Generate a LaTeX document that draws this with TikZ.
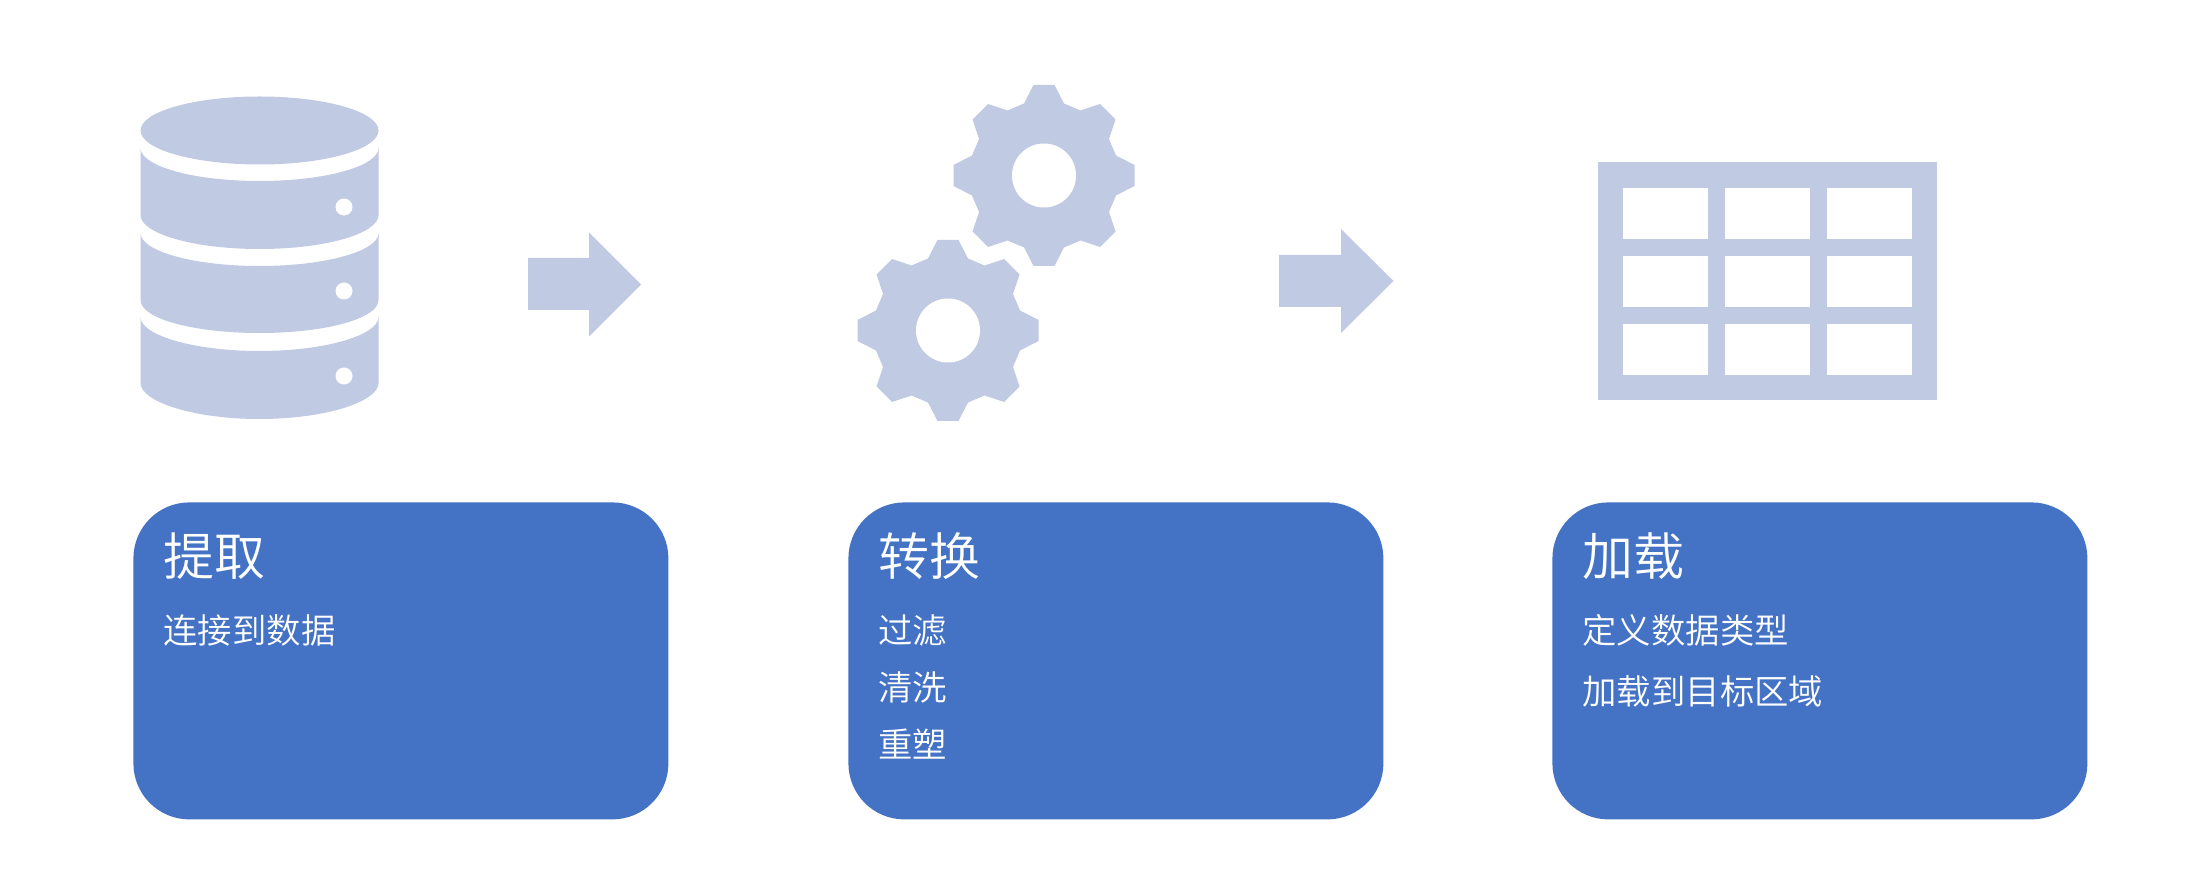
\documentclass[tikz,border=0pt]{standalone}
\usepackage{fontspec}
\newfontfamily\cjk[UprightFont=* DemiLight]{Noto Sans CJK SC}
\definecolor{iconblue}{HTML}{C1CAE3}
\definecolor{cardblue}{HTML}{4472C4}
\tikzset{
  icon/.style={fill=iconblue,draw=none},
  hole/.style={fill=white,draw=none},
  cardbox/.style={fill=cardblue,draw=none,rounded corners=28pt},
  cardtitle/.style={anchor=base west,inner sep=0pt,text=white,font=\cjk\fontsize{25.5}{30}\selectfont},
  cardline/.style={anchor=base west,inner sep=0pt,text=white,font=\cjk\fontsize{17.2}{20}\selectfont},
}
\newcommand{\gearat}[2]{%
  \begin{scope}[shift={(#1,#2)}]
  \fill[icon] (10.5,-90.5)--(20,-72)--(36.5,-65)--(56,-71.5)--(71.5,-56)--(65,-36.5)--(72,-20)--(90.5,-10.5)
   --(90.5,10.5)--(72,20)--(65,36.5)--(71.5,56)--(56,71.5)--(36.5,65)--(20,72)--(10.5,90.5)
   --(-10.5,90.5)--(-20,72)--(-36.5,65)--(-56,71.5)--(-71.5,56)--(-65,36.5)--(-72,20)--(-90.5,10.5)
   --(-90.5,-10.5)--(-72,-20)--(-65,-36.5)--(-71.5,-56)--(-56,-71.5)--(-36.5,-65)--(-20,-72)--(-10.5,-90.5)--cycle;
  \fill[hole] (0,0) circle [radius=32];
  \end{scope}}
\newcommand{\dbseg}[4]{% top side y, arc depth y, bottom side y, bottom y
  \fill[icon] (140.5,#1) .. controls (140.5,{#1+18}) and (193,#2) .. (259.5,#2)
     .. controls (326,#2) and (378.5,{#1+18}) .. (378.5,#1)
     -- (378.5,#3) .. controls (378.5,{#3+18.5}) and (326,#4) .. (259.5,#4)
     .. controls (193,#4) and (140.5,{#3+18.5}) .. (140.5,#3) -- cycle;}
\begin{document}
\begin{tikzpicture}[x=0.5pt,y=-0.5pt]
\useasboundingbox (0,0) rectangle (2190,887);
% database
\fill[icon] (259.5,130.5) ellipse [x radius=119, y radius=34];
\dbseg{148}{181}{215}{249}
\dbseg{233}{266}{300}{333}
\dbseg{317}{351}{383}{419}
\fill[hole] (344,207) circle [radius=8.5];
\fill[hole] (344,291) circle [radius=8.5];
\fill[hole] (344,376) circle [radius=8.5];
% gears
\gearat{1044}{175.5}
\gearat{948}{330.5}
% table
\fill[icon] (1598,162.5) rectangle (1937,400.5);
\foreach \xa in {1623,1725,1827}{
  \foreach \ya/\yb in {188/239,256/307,324/375}{
    \fill[hole] (\xa,\ya) rectangle ({\xa+85},\yb);
  }}
% arrows
\fill[icon] (528,258)--(589,258)--(589,232.5)--(641,284.5)--(589,336.5)--(589,310)--(528,310)--cycle;
\fill[icon] (1279,255)--(1341,255)--(1341,229)--(1393.5,281)--(1341,333)--(1341,307)--(1279,307)--cycle;
% cards
\node[cardbox,minimum width=267.5pt,minimum height=158.5pt,inner sep=0pt,anchor=north west] (card1) at (133,502) {};
\node[cardbox,minimum width=267.5pt,minimum height=158.5pt,inner sep=0pt,anchor=north west] (card2) at (848,502) {};
\node[cardbox,minimum width=267.5pt,minimum height=158.5pt,inner sep=0pt,anchor=north west] (card3) at (1552,502) {};
\node[cardtitle] (t1) at (163,575) {提取};
\node[cardline] (l1a) at (163,643) {连接到数据};
\node[cardtitle] (t2) at (878,575) {转换};
\node[cardline] (l2a) at (878,643) {过滤};
\node[cardline] (l2b) at (878,700) {清洗};
\node[cardline] (l2c) at (878,757) {重塑};
\node[cardtitle] (t3) at (1582,575) {加载};
\node[cardline] (l3a) at (1582,643) {定义数据类型};
\node[cardline] (l3b) at (1582,704) {加载到目标区域};
\end{tikzpicture}
\end{document}
